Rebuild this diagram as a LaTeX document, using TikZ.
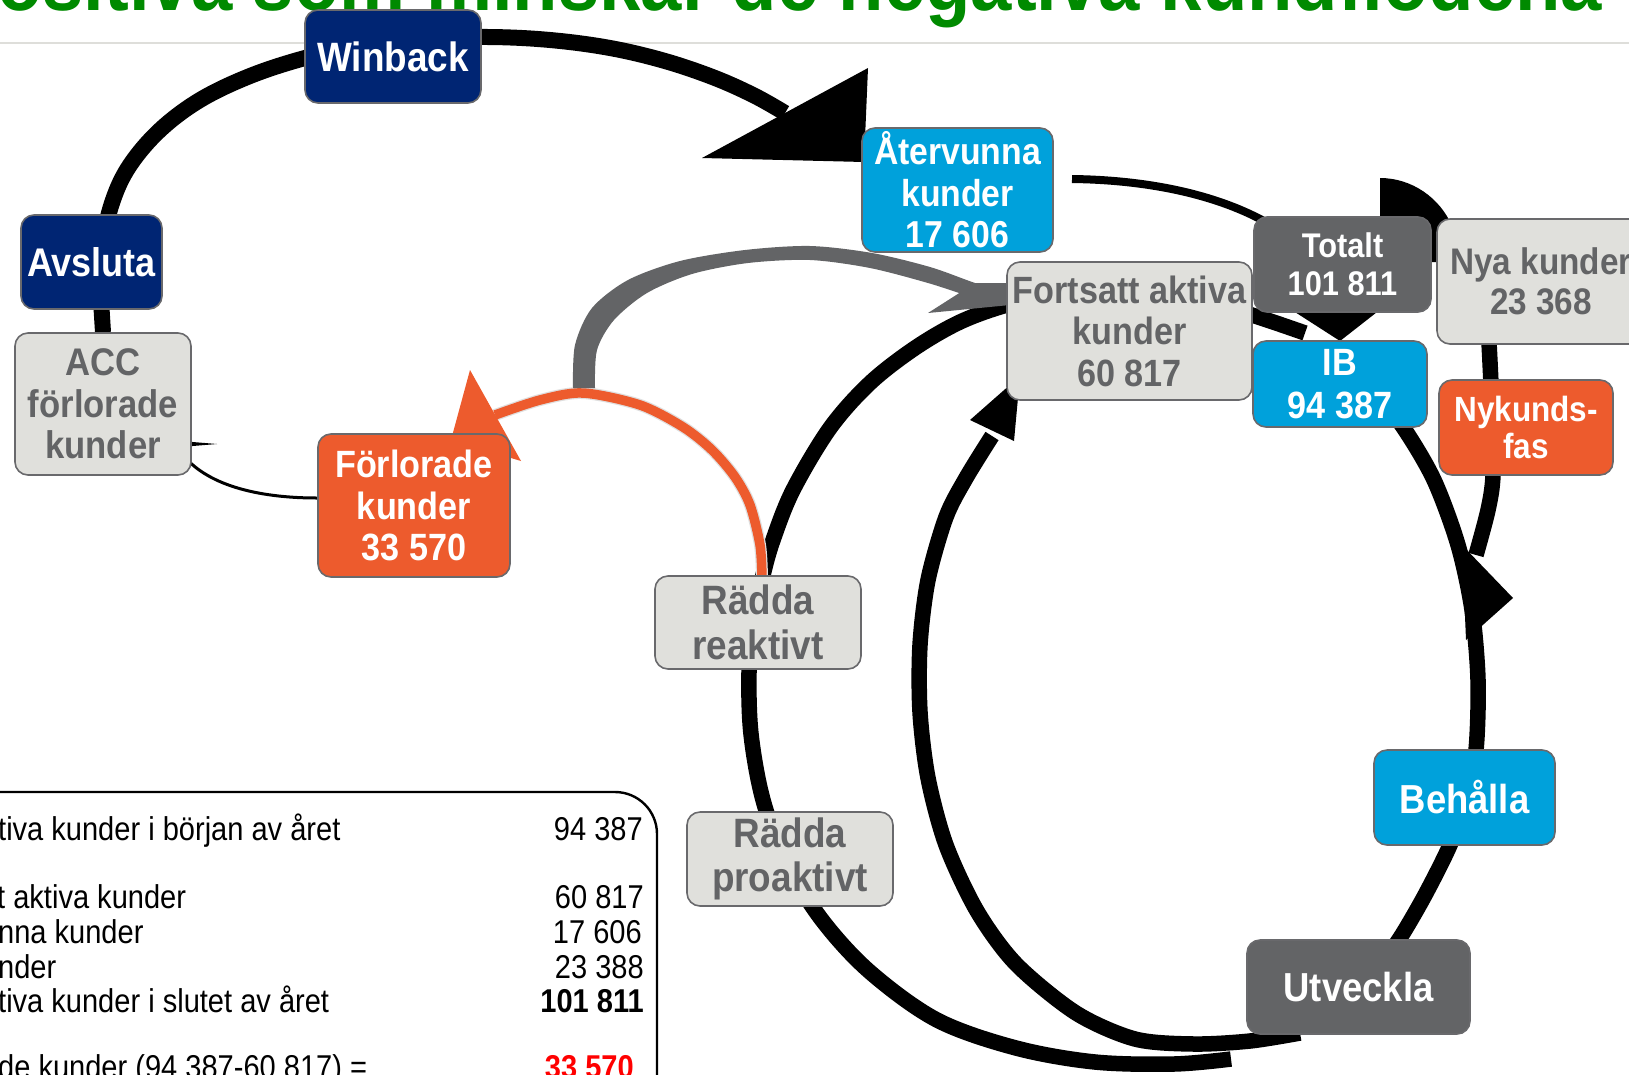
\documentclass[tikz,border=0pt]{standalone}
\usepackage{fontspec}
\usetikzlibrary{calc}
\newfontfamily\bsans[FakeStretch=0.9]{Liberation Sans}
\newfontfamily\tsans[FakeStretch=0.88]{Liberation Sans}
\definecolor{navy}{RGB}{0,37,115}
\definecolor{cyanb}{RGB}{0,161,219}
\definecolor{orng}{RGB}{237,91,45}
\definecolor{dgray}{RGB}{99,100,102}
\definecolor{lgray}{RGB}{224,224,220}
\definecolor{bord}{RGB}{105,105,108}
\definecolor{ttlgreen}{RGB}{0,138,0}
\definecolor{sepgray}{RGB}{222,222,218}
\pgfdeclarelayer{bgzero}
\pgfdeclarelayer{bgone}
\pgfsetlayers{bgzero,bgone,main}
\tikzset{
  bx/.style={draw=bord, line width=1.6pt, rounded corners=13pt, inner sep=0pt, align=center},
  fs/.style 2 args={font=\bsans\bfseries\fontsize{#1}{#2}\selectfont},
  navyb/.style={bx, fill=navy, text=white},
  cyanbx/.style={bx, fill=cyanb, text=white},
  orbx/.style={bx, fill=orng, text=white},
  dgbx/.style={bx, fill=dgray, text=white},
  lgbx/.style={bx, fill=lgray, text=dgray},
  band/.style={line width=15.5pt, draw=black},
  tbl/.style={font=\tsans\fontsize{33}{36}\selectfont, inner sep=0pt},
}
\begin{document}
\begin{tikzpicture}[x=1pt,y=-1pt,line join=round]
\useasboundingbox (0,0) rectangle (1629,1074);
\clip (0,0) rectangle (1629,1074);
\begin{pgfonlayer}{bgzero}
\fill[white] (0,0) rectangle (1629,1074);
\draw[sepgray, line width=2pt] (0,43) -- (1629,43);
\end{pgfonlayer}

% title
\node[anchor=base west, inner sep=0pt, text=ttlgreen, fs={82.5}{90}] (title) at (-3,10) {ositiva som minskar de negativa kundflödena};

% boxes
\node[navyb, fs={41}{44}, minimum width=176pt, minimum height=93pt] (winback) at (393,56.5) {Winback};
\node[navyb, fs={40}{43}, minimum width=141pt, minimum height=94pt] (avsluta) at (91.5,262) {Avsluta};
\node[lgbx, fs={38.5}{41.5}, minimum width=176pt, minimum height=142pt] (acc) at (103,404) {ACC\\förlorade\\kunder};
\node[orbx, fs={38}{41.5}, minimum width=192pt, minimum height=143pt] (forl) at (414,505.5) {Förlorade\\kunder\\33 570};
\node[cyanbx, fs={37.5}{41.5}, minimum width=191pt, minimum height=124pt] (aterv) at (957.5,190) {Återvunna\\kunder\\17 606};
\node[lgbx, fs={38}{41.5}, minimum width=245pt, minimum height=138pt] (forts) at (1129.5,331) {Fortsatt aktiva\\kunder\\60 817};
\node[dgbx, fs={34.2}{37.5}, minimum width=177pt, minimum height=95pt] (totalt) at (1342.5,264.5) {Totalt\\101 811};
\node[cyanbx, fs={38}{42.5}, minimum width=174pt, minimum height=86pt] (ib) at (1340,384) {IB\\94 387};
\node[lgbx, fs={37}{40.5}, minimum width=208pt, minimum height=125pt] (nya) at (1541,281.5) {Nya kunder\\23 368};
\node[orbx, fs={35}{37.5}, minimum width=174pt, minimum height=95pt] (nykund) at (1526,427.5) {Nykunds-\\fas};
\node[lgbx, fs={41}{44.5}, minimum width=206pt, minimum height=93pt] (rreak) at (758,622.5) {Rädda\\reaktivt};
\node[lgbx, fs={41}{44.5}, minimum width=206pt, minimum height=94pt] (rpro) at (790,859) {Rädda\\proaktivt};
\node[cyanbx, fs={40.5}{44}, minimum width=181pt, minimum height=95pt] (behalla) at (1464.5,797.5) {Behålla};
\node[dgbx, fs={40.5}{44}, minimum width=223pt, minimum height=94pt] (utv) at (1358.5,987) {Utveckla};

% table
\draw[line width=2.4pt, rounded corners=42pt] (-30,792) -- (657,792) -- (657,1110);
\node[tbl, anchor=base west] (r1) at (-2,840) {tiva kunder i början av året};
\node[tbl, anchor=base east] (n1) at (643,840) {94 387};
\node[tbl, anchor=base west] (r2) at (-3,908) {t aktiva kunder};
\node[tbl, anchor=base east] (n2) at (644,908) {60 817};
\node[tbl, anchor=base west] (r3) at (-2,943) {nna kunder};
\node[tbl, anchor=base east] (n3) at (642,943) {17 606};
\node[tbl, anchor=base west] (r4) at (-2,978) {nder};
\node[tbl, anchor=base east] (n4) at (644,978) {23 388};
\node[tbl, anchor=base west] (r5) at (-2,1012) {tiva kunder i slutet av året};
\node[tbl, anchor=base east, font=\tsans\bfseries\fontsize{33}{36}\selectfont] (n5) at (644,1012) {101 811};
\node[tbl, anchor=base west] (r6) at (-2,1078) {de kunder (94 387-60 817) =};
\node[tbl, anchor=base east, text=red, font=\tsans\bfseries\fontsize{33}{36}\selectfont] (n6) at (634,1078) {33 570};

\begin{pgfonlayer}{bgone}
% top-left big arc Avsluta-Winback -> Återvunna
\draw[band, line width=16pt] (acc.north) -- plot[smooth, tension=0.6] coordinates {(101,300) (104,240) (113,200) (130,165) (160,130) (200,100) (250,76) (305,58) (360,46) (420,39) (488,37) (550,40) (610,48) (665,61) (715,78) (755,96) (785,113)};
\fill (702,158) -- (868,68) -- (864,162) -- cycle;
% thin line from Återvunna
\coordinate (t0) at (1072,179);
\draw[line width=8pt] (t0) .. controls (1150,180) and (1215,195) .. (1262,220) .. controls (1300,240) and (1330,270) .. (1340,300);
\fill (1284,305) -- (1386,305) -- (1340,341) -- cycle;
% top right wedge
\fill (1380,178) .. controls (1412,178) and (1440,198) .. (1452,226) -- (1440,262) -- (1380,262) -- cycle;
% loop A left part
\draw[band] plot[smooth, tension=0.55] coordinates {(1231,1059) (1174,1064) (1095,1062) (1016,1048) (937,1020) (870,972) (822,920) (786,862) (763,800) (751,734) (749,672) (753,620) (763,575) (773,540) (793,490) (830,428) (870,383) (915,348) (960,322) (1007,305) (1060,294) (1130,291) (1200,300) (1255,316) (1305,333)};
% loop A right part
\draw[band] plot[smooth] coordinates {(1360,370) (1403,427) (1434,480) (1458,545) (1472,610) (1478,680) (1476,750) (1466,800) (1450,845) (1425,895) (1400,938) (1380,965)};
% Nya -> Nykunds band
\draw[band] plot[smooth] coordinates {(1486,300) (1489,343) (1492,410) (1493,475) (1488,510) (1476,555)};
\fill (1462,545) -- (1513,598) -- (1466,640) -- cycle;
% loop B inner
\draw[band] plot[smooth] coordinates {(1300,1033) (1250,1041) (1194,1044) (1135,1039) (1076,1013) (1016,964) (977,911) (946,845) (928,778) (920,712) (920,645) (928,580) (946,517) (966,478) (992,436)};
\fill (970,420) -- (1014,441) -- (1020,376) -- cycle;
% orange arc
\draw[gray!25, line width=12pt] plot[smooth] coordinates {(762,578) (760,545) (750,505) (735,477) (712,450) (683,427) (640,405) (583,393) (540,400) (495,415)};
\draw[orng, line width=9.5pt] plot[smooth] coordinates {(762,578) (760,545) (750,505) (735,477) (712,450) (683,427) (640,405) (583,393) (540,400) (495,415)};
\fill[orng] (470,370) -- (521,461) -- (451,440) -- cycle;
% gray tapered arc
\fill[dgray] plot[smooth] coordinates {(573,388) (575,345) (592,308) (628,280) (680,261) (745,250) (810,246) (872,253) (930,267) (975,283) (1008,293)} -- plot[smooth] coordinates {(1008,305) (972,297) (928,283) (870,268) (810,260) (748,263) (692,274) (647,293) (614,320) (597,350) (595,388)} -- cycle;
\fill[dgray] (928,313) -- (975,283) -- (1010,283) -- (1010,305) -- cycle;
% ACC thin connector
\draw[line width=3pt] ($(forl.west)+(0,-7.5)$) .. controls (265,498) and (210,488) .. (183,455);
\fill (120,436) -- (217,444) -- (120,452) -- cycle;
\end{pgfonlayer}
\end{tikzpicture}
\end{document}
